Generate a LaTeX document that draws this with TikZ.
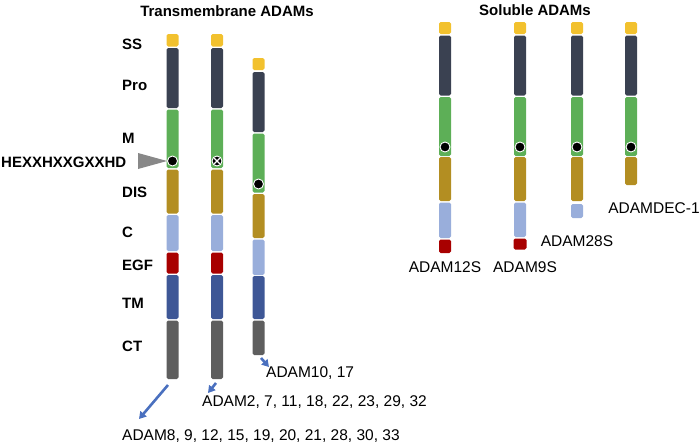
\documentclass[tikz,border=0pt]{standalone}
\usepackage{fontspec}
\setmainfont{Liberation Sans}
\usetikzlibrary{arrows.meta}
\definecolor{cSS}{HTML}{F2C12E}
\definecolor{cPro}{HTML}{3A4151}
\definecolor{cM}{HTML}{5DAF57}
\definecolor{cDIS}{HTML}{B38E22}
\definecolor{cC}{HTML}{99AEDB}
\definecolor{cEGF}{HTML}{A80000}
\definecolor{cTM}{HTML}{3E5796}
\definecolor{cCT}{HTML}{5E5E5E}
\definecolor{cArr}{HTML}{4A70BF}
\definecolor{cTri}{HTML}{888888}
\newcommand\segm[5][12]{\fill[#5, rounded corners=1.6pt] ({#2-#1/2},#3) rectangle ({#2+#1/2},#4);}
\newcommand\activesite[2]{\fill[black, draw=white, line width=0.9pt] (#1,#2) circle (5);}
\begin{document}
\begin{tikzpicture}[x=1pt,y=-1pt,
  lbl/.style={font=\bfseries\fontsize{15}{18}\selectfont, anchor=west, inner sep=0},
  ttl/.style={font=\bfseries\fontsize{15}{18}\selectfont, inner sep=0},
  nm/.style={font=\fontsize{15.5}{18}\selectfont, inner sep=0},
  blarrow/.style={draw=cArr, line width=2.6pt, -{Triangle[length=7pt,width=8pt]}}]
\useasboundingbox (0,0) rectangle (700,445);
% titles
\node[ttl] (t1) at (227,11) {Transmembrane ADAMs};
\node[ttl] (t2) at (535,10) {Soluble ADAMs};
% domain labels
\node[lbl] (lSS) at (122,44) {SS};
\node[lbl] (lPro) at (122,85) {Pro};
\node[lbl] (lM) at (122,138) {M};
\node[lbl] (lDIS) at (122,192) {DIS};
\node[lbl] (lC) at (122,232) {C};
\node[lbl] (lEGF) at (122,265) {EGF};
\node[lbl] (lTM) at (122,303) {TM};
\node[lbl] (lCT) at (122,346) {CT};
\node[lbl] (lMotif) at (1,162) {HEXXHXXGXXHD};
% pointer triangle
\fill[cTri] (138,153) -- (167,161) -- (138,169) -- cycle;
% transmembrane columns 1 and 2
\foreach \cx in {172.5,217}{
  \segm{\cx}{34}{46.5}{cSS}
  \segm{\cx}{48}{108}{cPro}
  \segm{\cx}{109.5}{168}{cM}
  \segm{\cx}{169.5}{213.5}{cDIS}
  \segm{\cx}{215}{251}{cC}
  \segm{\cx}{252.5}{273.5}{cEGF}
  \segm{\cx}{275}{319}{cTM}
  \segm{\cx}{320.5}{379}{cCT}
}
% column 3
\segm{258.5}{58}{70}{cSS}
\segm{258.5}{72}{132}{cPro}
\segm{258.5}{133.5}{192.5}{cM}
\segm{258.5}{194}{238}{cDIS}
\segm{258.5}{239.5}{275}{cC}
\segm{258.5}{276}{319}{cTM}
\segm{258.5}{320.5}{355}{cCT}
% active sites
\activesite{172.5}{161}
\activesite{258.5}{184}
\fill[black, draw=white, line width=0.9pt] (217,161) circle (5);
\draw[white, line width=1.3pt] (214,158) -- (220,164) (214,164) -- (220,158);
% soluble columns
\foreach \cx in {445,520,577,631}{
  \segm{\cx}{22}{34}{cSS}
  \segm{\cx}{35.5}{95.5}{cPro}
  \segm{\cx}{97}{156}{cM}
  \activesite{\cx}{147}
}
\segm{445}{157}{201}{cDIS}
\segm{445}{202.5}{238}{cC}
\segm{445}{239.5}{253}{cEGF}
\segm{520}{157}{201}{cDIS}
\segm{520}{202.5}{237}{cC}
\segm[13]{520}{238.5}{249.5}{cEGF}
\segm{577}{157}{201}{cDIS}
\segm{577}{204}{218}{cC}
\segm{631}{157}{185}{cDIS}
% soluble names
\node[nm] (n12) at (445,267) {ADAM12S};
\node[nm] (n9) at (525,267) {ADAM9S};
\node[nm] (n28) at (577,241) {ADAM28S};
\node[nm] (ndec) at (654,208) {ADAMDEC-1};
% transmembrane group names
\node[nm, anchor=west] (g1) at (122,436) {ADAM8, 9, 12, 15, 19, 20, 21, 28, 30, 33};
\node[nm, anchor=west] (g2) at (202,402) {ADAM2, 7, 11, 18, 22, 23, 29, 32};
\node[nm, anchor=west] (g3) at (266,373) {ADAM10, 17};
% arrows
\coordinate (a1s) at (168,385);
\coordinate (a1e) at (139,419);
\coordinate (a2s) at (216,383);
\coordinate (a2e) at (208,393);
\coordinate (a3s) at (261,358);
\coordinate (a3e) at (269,367);
\draw[blarrow] (a1s) -- (a1e);
\draw[blarrow] (a2s) -- (a2e);
\draw[blarrow] (a3s) -- (a3e);
\end{tikzpicture}
\end{document}
